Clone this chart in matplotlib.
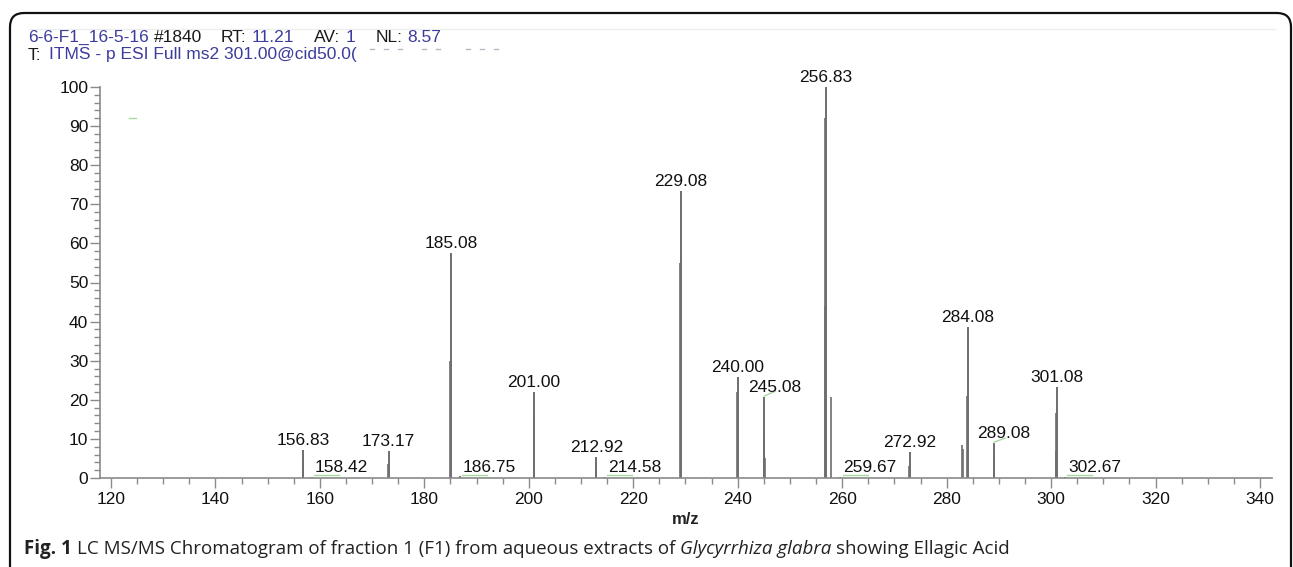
import matplotlib
matplotlib.use("Agg")
import matplotlib.pyplot as plt
from matplotlib.patches import FancyBboxPatch
from matplotlib.lines import Line2D
from matplotlib.ticker import MultipleLocator
from matplotlib.transforms import IdentityTransform

plt.rcParams["font.family"] = ["Liberation Sans", "DejaVu Sans"]

# labelled peaks (m/z, relative abundance)
peak_mz = [156.83, 158.42, 173.17, 185.08, 186.75, 201.00, 212.92, 214.58, 229.08,
           240.00, 245.08, 256.83, 259.67, 272.92, 284.08, 289.08, 301.08, 302.67]
peak_int = [7.2, 0.3, 7.0, 57.5, 0.4, 22.1, 5.4, 0.3, 73.4,
            25.9, 20.8, 100.0, 0.3, 6.7, 38.7, 9.0, 23.2, 0.3]

# unlabelled profile sticks / shoulders
extra_mz = [156.72, 173.10, 184.97, 200.93, 212.86, 228.96, 239.93, 244.96, 245.18,
            256.62, 256.74, 257.95, 272.86, 282.92, 283.06, 283.98, 288.98, 300.92, 300.98]
extra_int = [4.0, 3.5, 30.0, 14.0, 3.0, 55.0, 22.0, 10.0, 5.0,
             44.0, 92.0, 20.8, 3.0, 8.4, 7.5, 21.0, 4.0, 7.0, 16.6]

x_ticks = list(range(120, 341, 20))
y_ticks = list(range(0, 101, 10))

W, H = 1293, 567
fig = plt.figure(figsize=(W / 100, H / 100), dpi=100)
ax = fig.add_axes([100 / W, 1 - 478 / H, (1272 - 100) / W, (478 - 87) / H])

axis_col = "#8a8a8a"
stick_col = "#6e6e6e"

ax.vlines(extra_mz, 0, extra_int, color=stick_col, lw=1.2)
ax.vlines(peak_mz, 0, peak_int, color=stick_col, lw=1.4)

ax.set_xlim(117.9, 342.3)
ax.set_ylim(0, 100)
for s in ["top", "right"]:
    ax.spines[s].set_visible(False)
for s in ["left", "bottom"]:
    ax.spines[s].set_color(axis_col)
    ax.spines[s].set_linewidth(1.2)

ax.set_xticks(x_ticks)
ax.set_yticks(y_ticks)
ax.xaxis.set_minor_locator(MultipleLocator(5))
ax.yaxis.set_minor_locator(MultipleLocator(2))
ax.tick_params(which="major", length=7.5, width=1, color=axis_col,
               labelsize=12.5, labelcolor="#111111")
ax.tick_params(which="minor", length=4.3, width=1, color=axis_col)
ax.tick_params(axis="x", which="major", pad=2.5)
ax.tick_params(axis="y", which="major", pad=1)

# peak labels
lab_kw = dict(fontsize=12.5, color="#111111", textcoords="offset pixels",
              va="baseline", annotation_clip=False)
nudge = {245.08: 10, 289.08: 10}
for mz, inten in zip(peak_mz, peak_int):
    txt = f"{mz:.2f}"
    if inten < 1:
        ax.annotate(txt, (mz, 0), xytext=(3, 6), ha="left", **lab_kw)
        ax.plot([mz + 0.4, mz + 5.2], [0.8, 0.8], color="#a8d8a0", lw=1)
    else:
        ax.annotate(txt, (mz, inten), xytext=(nudge.get(mz, 0), 5),
                    ha="center", **lab_kw)
ax.plot([245.15, 247.2], [21.0, 22.2], color="#a8d8a0", lw=1)
ax.plot([289.15, 291.2], [9.2, 10.2], color="#a8d8a0", lw=1)
ax.plot([123.5, 124.8], [92, 92], color="#a8d8a0", lw=1)

fig.text(686 / W, 1 - 520 / H, "m/z", ha="center", va="center",
         fontsize=12, fontweight="bold", color="#222222")

renderer = fig.canvas.get_renderer()


def put_pieces(x0, y, pieces, **kw):
    # place text pieces one after another, y is pixel from top
    x = x0
    for s, props in pieces:
        if s == " ":
            x += props
            continue
        t = fig.text(x / W, 1 - y / H, s, va="center", ha="left", **kw, **props)
        bb = t.get_window_extent(renderer)
        x = bb.x1
    return x


blue = "#3c3c9c"
blk = "#1a1a1a"
hdr = dict(fontsize=12.5)
put_pieces(28, 37, [("6-6-F1_16-5-16", dict(color=blue)), (" ", 5),
                    ("#1840", dict(color=blk)), (" ", 19),
                    ("RT:", dict(color=blk)), (" ", 5), ("11.21", dict(color=blue)), (" ", 20),
                    ("AV:", dict(color=blk)), (" ", 5), ("1", dict(color=blue)), (" ", 20),
                    ("NL:", dict(color=blk)), (" ", 5), ("8.57", dict(color=blue))], **hdr)
x_end = put_pieces(28, 55, [("T:", dict(color=blk)), (" ", 7),
                            ("ITMS - p ESI Full ms2 301.00@cid50.0(", dict(color=blue))], **hdr)
for i in range(8):
    xs = x_end + 14 + i * 14 + (10 if i > 2 else 0) + (16 if i > 4 else 0)
    fig.add_artist(Line2D([xs / W, (xs + 4) / W], [1 - 49 / H] * 2,
                          color="#b8b8c8", lw=1))

# caption
cap = dict(family="Open Sans", fontsize=13.5, color="#222222")
put_pieces(24, 549, [("Fig. 1", dict(fontweight="bold")), (" ", 5),
                     ("LC MS/MS Chromatogram of fraction 1 (F1) from aqueous extracts of", {}),
                     (" ", 5), ("Glycyrrhiza glabra", dict(style="italic")), (" ", 5),
                     ("showing Ellagic Acid", {})], **cap)

# frame and faint header rule
frame = FancyBboxPatch((10, -40), 1281, H - 13 + 40,
                       boxstyle="round,pad=0,rounding_size=14",
                       transform=IdentityTransform(), fill=False,
                       edgecolor="#111111", lw=1.6, clip_on=False)
fig.add_artist(frame)
fig.add_artist(Line2D([30 / W, 1275 / W], [1 - 29 / H] * 2, color="#eeeeee", lw=1))

fig.savefig("out.png", dpi=100)
